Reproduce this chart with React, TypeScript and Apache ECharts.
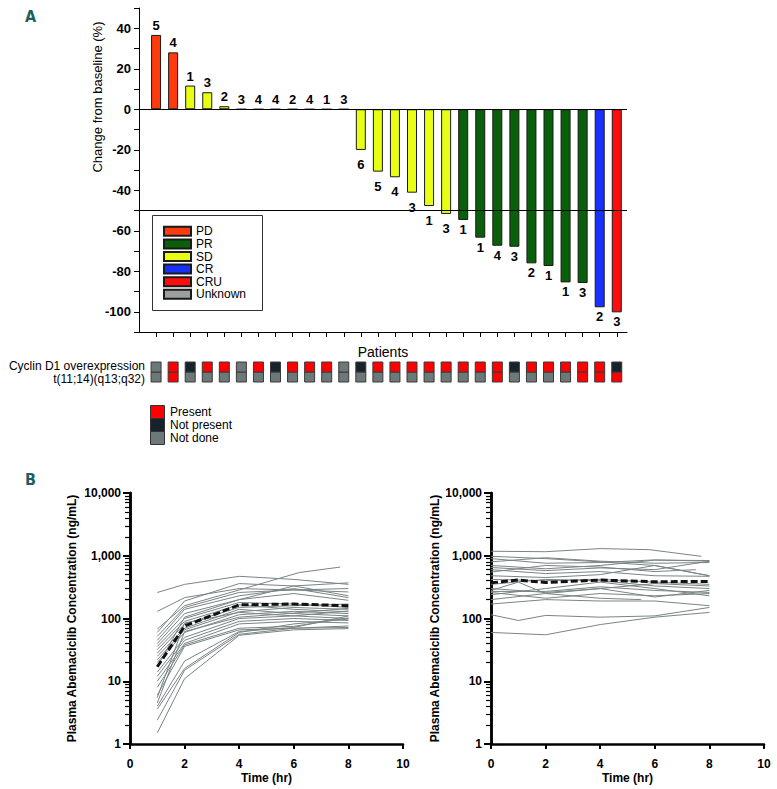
import React, { useEffect, useRef } from 'react';
import * as echarts from 'echarts';

// ---------- Panel A data ----------
const patientIndex = [0, 1, 2, 3, 4, 5, 6, 7, 8, 9, 10, 11, 12, 13, 14, 15, 16, 17, 18, 19, 20, 21, 22, 23, 24, 25, 26, 27];
const patientResponse = [
  'PD', 'PD', 'SD', 'SD', 'SD',
  'Unknown', 'Unknown', 'Unknown', 'Unknown', 'Unknown', 'Unknown', 'Unknown',
  'SD', 'SD', 'SD', 'SD', 'SD', 'SD',
  'PR', 'PR', 'PR', 'PR', 'PR', 'PR', 'PR', 'PR',
  'CR', 'CRU',
];
const changeFromBaseline = [
  36.7, 28.1, 11.7, 8.4, 1.5,
  0, 0, 0, 0, 0, 0, 0,
  -20.1, -30.8, -33.6, -41.2, -47.8, -51.7,
  -54.7, -63.4, -67.4, -67.9, -76.1, -77.4, -85.5, -85.8,
  -97.8, -100.3,
];
const barLabels = [5, 4, 1, 3, 2, 3, 4, 4, 2, 4, 1, 3, 6, 5, 4, 3, 1, 3, 1, 1, 4, 3, 2, 1, 1, 3, 2, 3];
const responseCats = ['PD', 'PR', 'SD', 'CR', 'CRU', 'Unknown'];
const yTickValuesA = [-110, -100, -90, -80, -70, -60, -50, -40, -30, -20, -10, 0, 10, 20, 30, 40, 50];
const yLabelValuesA = [-100, -80, -60, -40, -20, 0, 20, 40];
const referenceLines = [0, -50];

// rows of the marker strip (bottom first)
const markerRows = ['t(11;14)(q13;q32)', 'Cyclin D1 overexpression'];
// P = present, NP = not present, ND = not done
const cyclinD1 = ['ND', 'P', 'NP', 'P', 'P', 'ND', 'P', 'NP', 'P', 'P', 'P', 'ND', 'NP', 'P', 'P', 'P', 'P', 'P', 'P', 'P', 'P', 'NP', 'P', 'P', 'P', 'P', 'P', 'NP'];
const t1114 = ['ND', 'P', 'ND', 'ND', 'ND', 'ND', 'ND', 'ND', 'ND', 'ND', 'ND', 'ND', 'ND', 'ND', 'ND', 'ND', 'ND', 'ND', 'ND', 'ND', 'P', 'ND', 'ND', 'ND', 'ND', 'P', 'P', 'P'];
const heatLegend = ['Present', 'Not present', 'Not done'];

// ---------- Panel B data ----------
const leftProfiles: number[][][] = [
  [[1, 260], [2, 350], [4, 470], [6, 420], [8, 350]],
  [[1, 130], [2, 215], [4, 300], [6, 285], [8, 265]],
  [[1, 68], [2, 160], [4, 285], [6.2, 540], [7.7, 660]],
  [[1, 60], [2, 190], [4, 360], [6, 330], [8, 370]],
  [[1, 52], [2, 150], [4, 260], [6, 285], [8, 300]],
  [[1, 45], [2, 140], [4, 230], [6, 300], [8, 215]],
  [[1, 40], [2, 120], [4, 200], [6, 250], [8, 195]],
  [[1, 36], [2, 100], [4, 180], [6, 170], [8, 150]],
  [[1, 32], [2, 90], [4, 165], [6, 140], [8, 128]],
  [[1, 28], [2, 82], [4, 150], [6, 160], [8, 170]],
  [[1, 25], [2, 70], [4, 140], [6, 120], [8, 110]],
  [[1, 22], [2, 66], [4, 128], [6, 150], [8, 140]],
  [[1, 20], [2, 60], [4, 115], [6, 130], [8, 120]],
  [[1, 14], [2, 50], [4, 100], [6, 110], [8, 100]],
  [[1, 12], [2, 45], [4, 90], [6, 100], [8, 93]],
  [[1, 10], [2, 40], [4, 82], [6, 90], [8, 85]],
  [[1, 8], [2, 38], [4, 70], [6, 75], [8, 102]],
  [[1, 6], [2, 36], [4, 66], [6, 70], [8, 76]],
  [[1, 5.5], [2, 85], [4, 125], [6, 110], [8, 132]],
  [[1, 4.5], [2, 62], [4, 105], [6, 122], [8, 145]],
  [[1, 4], [2, 21], [4, 62], [6, 72], [8, 110]],
  [[1, 3.6], [2, 16], [4, 60], [6, 82], [8, 98]],
  [[1, 2.4], [2, 15], [4, 56], [6, 70], [8, 72]],
  [[1, 1.5], [2, 11], [4, 54], [6, 66], [8, 69]],
  [[1, 17], [2, 105], [4, 200], [6, 330], [8, 230]],
];
const leftMean = [[1, 17], [2, 76], [4, 165], [6, 170], [8, 160]];

const rightProfiles: number[][][] = [
  [[0, 1180], [2, 1160], [4, 1300], [5.8, 1250], [7.7, 980]],
  [[0, 980], [2, 900], [4, 800], [6, 700], [8, 480]],
  [[0, 800], [2, 930], [4, 820], [6, 760], [8, 780]],
  [[0, 900], [2, 760], [4, 780], [6, 860], [8, 820]],
  [[0, 700], [2, 620], [4, 700], [6, 850], [8, 840]],
  [[0, 650], [2, 580], [4, 640], [6, 600], [8, 820]],
  [[0, 600], [2, 520], [4, 560], [6, 480], [8, 470]],
  [[0, 550], [2, 700], [4, 660], [6, 560], [7.5, 600]],
  [[0, 480], [2, 450], [4, 500], [6, 700], [8, 480]],
  [[0, 420], [2, 400], [4, 420], [6, 380], [8, 350]],
  [[0, 350], [2, 420], [4, 400], [6, 330], [8, 300]],
  [[0, 300], [2, 260], [4, 300], [6, 360], [8, 330]],
  [[0, 270], [2, 270], [4, 320], [6, 280], [8, 260]],
  [[0, 260], [2, 210], [4, 250], [6, 230], [8, 250]],
  [[0, 240], [2, 300], [4, 380], [6, 300], [8, 230]],
  [[0, 200], [2, 250], [4, 210], [5.5, 200]],
  [[0, 170], [2, 200], [4, 190], [6, 190], [8, 160]],
  [[0, 115], [1, 93], [2, 112], [4, 105], [6, 110], [8, 150]],
  [[0, 60], [2, 55], [4, 80], [6, 105], [8, 125]],
  [[0, 280], [1, 380], [2, 250], [4, 300], [6, 220], [8, 280]],
];
const rightMean = [[0, 370], [1, 410], [2, 375], [4, 410], [6, 385], [8, 390]];

const logMinorTickValues = [
  2, 3, 4, 5, 6, 7, 8, 9,
  20, 30, 40, 50, 60, 70, 80, 90,
  200, 300, 400, 500, 600, 700, 800, 900,
  2000, 3000, 4000, 5000, 6000, 7000, 8000, 9000,
];

// ---------- styles ----------
const FONT = '"Liberation Sans", Arial, sans-serif';
const responseColors: Record<string, string> = {
  PD: '#ff3a0d',
  PR: '#0a600a',
  SD: '#e8ff14',
  CR: '#1530ff',
  CRU: '#ff0d0d',
  Unknown: '#9a9f9f',
};
const heatColors: Record<string, string> = { P: '#ff0000', NP: '#16232b', ND: '#6d7878' };
const heatLegendColors = ['#ff0000', '#16232b', '#6d7878'];
const LINE_GRAY = '#7a8484';
const TEAL = '#1d5f63';

function buildOption() {
  const series: any[] = [];

  responseCats.forEach((cat, k) => {
    const data: any[] = [];
    changeFromBaseline.forEach((v, i) => {
      if (patientResponse[i] !== cat) return;
      const neg = v < 0;
      data.push({
        value: [patientIndex[i], v],
        label: {
          position: neg ? 'bottom' : 'top',
          distance: neg ? (cat === 'SD' ? 8 : 3) : 3,
          formatter: String(barLabels[i]),
        },
      });
    });
    series.push({
      type: 'bar',
      name: cat,
      xAxisIndex: 0,
      yAxisIndex: 0,
      barWidth: 10,
      barGap: '-100%',
      itemStyle: { color: responseColors[cat], borderColor: '#1a1a1a', borderWidth: 1 },
      label: { show: true, color: '#000', fontFamily: FONT, fontSize: 13, fontWeight: 'bold' },
      data,
      markLine: k === 0
        ? {
            silent: true,
            symbol: 'none',
            label: { show: false },
            lineStyle: { color: '#000', width: 1, type: 'solid' },
            data: referenceLines.map((y) => ({ yAxis: y })),
          }
        : undefined,
    });
  });

  // marker strip cells
  [[t1114, markerRows[0]], [cyclinD1, markerRows[1]]].forEach(([statuses, row]: any) => {
    series.push({
      type: 'scatter',
      xAxisIndex: 1,
      yAxisIndex: 1,
      symbol: 'rect',
      symbolSize: [10, 10],
      silent: true,
      itemStyle: { borderColor: '#3a3a3a', borderWidth: 1, opacity: 1 },
      data: statuses.map((s: string, i: number) => ({ value: [patientIndex[i], row], itemStyle: { color: heatColors[s] } })),
    });
  });

  const profileSeries = (profiles: number[][][], xi: number, yi: number) =>
    profiles.map((p) => ({
      type: 'line',
      xAxisIndex: xi,
      yAxisIndex: yi,
      symbol: 'none',
      silent: true,
      lineStyle: { color: LINE_GRAY, width: 1 },
      data: p,
    }));
  series.push(...profileSeries(leftProfiles, 2, 2));
  series.push(...profileSeries(rightProfiles, 3, 3));
  [[leftMean, 2], [rightMean, 3]].forEach(([d, idx]: any) => {
    series.push({
      type: 'line',
      xAxisIndex: idx,
      yAxisIndex: idx,
      symbol: 'none',
      z: 5,
      lineStyle: { color: '#111', width: 3, type: [7, 3] },
      data: d,
    });
  });

  const boldTick = { fontFamily: FONT, fontWeight: 'bold', color: '#000' };

  const timeAxis = (gi: number) => ({
    gridIndex: gi,
    type: 'value',
    position: 'bottom',
    min: 0,
    max: 10,
    interval: 2,
    name: 'Time (hr)',
    nameLocation: 'middle',
    nameGap: 28,
    nameTextStyle: { ...boldTick, fontSize: 12 },
    axisLine: { show: true, onZero: false, lineStyle: { color: '#000', width: 2.5 } },
    axisTick: { show: true, length: 5, lineStyle: { color: '#000', width: 2 } },
    axisLabel: { ...boldTick, fontSize: 12, margin: 14 },
    splitLine: { show: false },
  });
  const concAxis = (gi: number, gap: number) => ({
    gridIndex: gi,
    type: 'log',
    position: 'left',
    logBase: 10,
    min: 1,
    max: 10000,
    name: 'Plasma Abemaciclib Concentration (ng/mL)',
    nameLocation: 'middle',
    nameGap: gap,
    nameTextStyle: { ...boldTick, fontSize: 12 },
    axisLine: { show: true, onZero: false, lineStyle: { color: '#000', width: 2.5 } },
    axisTick: { show: true, length: 7, lineStyle: { color: '#000', width: 2 } },
    axisLabel: {
      ...boldTick,
      fontSize: 12,
      margin: 9,
      formatter: (v: number) => Math.round(v).toLocaleString('en-US'),
    },
    splitLine: { show: false },
    minorTick: { show: false },
  });
  const minorAxis = (gi: number) => ({
    gridIndex: gi,
    type: 'value',
    position: 'left',
    offset: 0,
    min: 0,
    max: 4,
    axisLine: { show: true, onZero: false, lineStyle: { color: '#000', width: 2.5 } },
    axisTick: {
      show: true,
      length: 5,
      lineStyle: { color: '#000', width: 1.2 },
      customValues: logMinorTickValues.map((v) => Math.log10(v)),
    },
    axisLabel: { show: false },
    splitLine: { show: false },
  });

  return {
    animation: false,
    backgroundColor: '#fff',
    textStyle: { fontFamily: FONT },
    grid: [
      { left: 139, top: 8, width: 488, height: 324 },
      { left: 139, top: 362, width: 488, height: 20 },
      { left: 130, top: 493, width: 273, height: 251 },
      { left: 491, top: 493, width: 273, height: 251 },
    ],
    legend: {
      data: responseCats,
      orient: 'vertical',
      left: 163,
      top: 225,
      padding: 0,
      itemWidth: 27,
      itemHeight: 9,
      itemGap: 0,
      icon: 'rect',
      selectedMode: false,
      textStyle: { fontFamily: FONT, fontSize: 12, lineHeight: 12.6, color: '#000' },
    },
    xAxis: [
      {
        gridIndex: 0,
        type: 'value',
        position: 'bottom',
        min: -1,
        max: 27.6,
        axisLine: { show: true, onZero: false, lineStyle: { color: '#000', width: 1 } },
        axisTick: { show: true, length: 5, customValues: patientIndex, lineStyle: { color: '#000' } },
        axisLabel: { show: false },
        splitLine: { show: false },
      },
      { gridIndex: 1, type: 'value', min: -1, max: 27.6, show: false },
      timeAxis(2),
      timeAxis(3),
    ],
    yAxis: [
      {
        gridIndex: 0,
        type: 'value',
        position: 'left',
        min: -110,
        max: 50,
        axisLine: { show: true, onZero: false, lineStyle: { color: '#000', width: 1 } },
        axisTick: { show: true, length: 5, customValues: yTickValuesA, lineStyle: { color: '#000' } },
        axisLabel: { ...boldTick, fontSize: 13, margin: 8, customValues: yLabelValuesA },
        splitLine: { show: false },
      },
      { gridIndex: 1, type: 'category', data: markerRows, show: false },
      concAxis(2, 52),
      concAxis(3, 50),
      minorAxis(2),
      minorAxis(3),
    ],
    graphic: [
      { type: 'text', x: 25, y: 16, style: { text: 'A', fontFamily: '"DejaVu Sans Condensed", "DejaVu Sans"', fontWeight: 'bold', fontSize: 16, fill: TEAL, verticalAlign: 'middle' } },
      { type: 'text', x: 25, y: 479, style: { text: 'B', fontFamily: '"DejaVu Sans Condensed", "DejaVu Sans"', fontWeight: 'bold', fontSize: 16, fill: TEAL, verticalAlign: 'middle' } },
      {
        type: 'text', x: 97, y: 97, rotation: Math.PI / 2,
        style: { text: 'Change from baseline (%)', fontFamily: FONT, fontSize: 13, fill: '#000', align: 'center', verticalAlign: 'middle' },
      },
      { type: 'text', x: 383, y: 352, style: { text: 'Patients', fontFamily: FONT, fontSize: 14, fill: '#000', align: 'center', verticalAlign: 'middle' } },
      { type: 'text', x: 145, y: 366, style: { text: markerRows[1], fontFamily: FONT, fontSize: 12, fill: '#000', align: 'right', verticalAlign: 'middle' } },
      { type: 'text', x: 145, y: 379, style: { text: markerRows[0], fontFamily: FONT, fontSize: 12, fill: '#000', align: 'right', verticalAlign: 'middle' } },
      { type: 'rect', z: -1, shape: { x: 152.5, y: 215.5, width: 110, height: 95 }, style: { fill: '#fff', stroke: '#333', lineWidth: 1 } },
      ...heatLegend.flatMap((t, i) => [
        { type: 'rect', shape: { x: 150.5, y: 405.5 + i * 13, width: 14, height: 13 }, style: { fill: heatLegendColors[i], stroke: '#333', lineWidth: 1 } },
        { type: 'text', x: 170, y: 412 + i * 13, style: { text: t, fontFamily: FONT, fontSize: 12, fill: '#000', verticalAlign: 'middle' } },
      ]),
    ],
    series,
  };
}

export default function App() {
  const ref = useRef<HTMLDivElement>(null);
  useEffect(() => {
    const chart = echarts.init(ref.current!, undefined, { renderer: 'svg' });
    chart.setOption(buildOption() as any);
    return () => chart.dispose();
  }, []);
  return (
    <div
      ref={ref}
      style={{ position: 'absolute', left: 0, top: 0, width: 777, height: 789, background: '#fff' }}
    />
  );
}
